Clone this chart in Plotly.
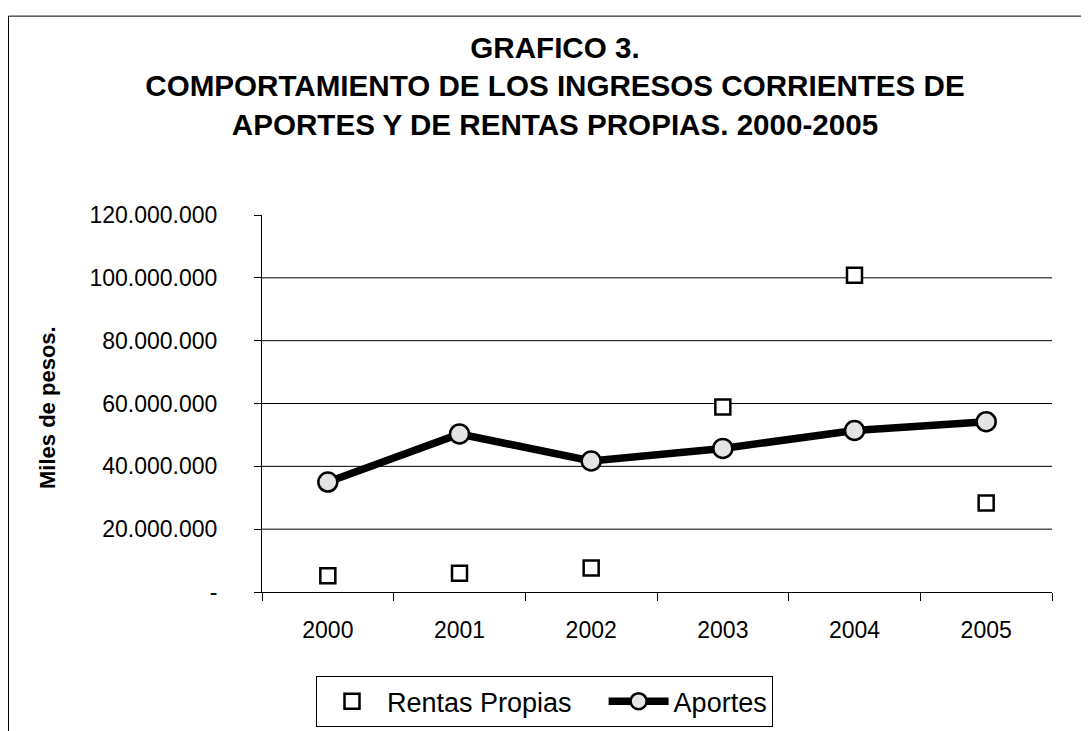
import plotly.graph_objects as go

years = ["2000", "2001", "2002", "2003", "2004", "2005"]
rentas_propias = [5200000, 6000000, 7600000, 58900000, 100800000, 28300000]
aportes = [35000000, 50300000, 41700000, 45700000, 51400000, 54200000]

y_tickvals = [0, 20000000, 40000000, 60000000, 80000000, 100000000, 120000000]
y_ticktext = ["-", "20.000.000", "40.000.000", "60.000.000", "80.000.000", "100.000.000", "120.000.000"]
grid_values = [20000000, 40000000, 60000000, 80000000, 100000000]

FONT = "Liberation Sans, Arial, sans-serif"

# the page body adds an 8px offset; positions below are in figure pixels
L, R, T, B = 254, 1044, 207, 588
PW, PH = R - L, B - T

def px(xfig):
    return (xfig - L) / PW

def py(yfig):
    return (B - yfig) / PH

fig = go.Figure()
fig.add_trace(go.Scatter(
    x=years, y=rentas_propias, name="Rentas Propias\u2002\u2002", mode="markers",
    marker=dict(symbol="square", size=15, color="white",
                line=dict(color="black", width=2.5)),
))
fig.add_trace(go.Scatter(
    x=years, y=aportes, name="Aportes", mode="lines+markers",
    line=dict(color="black", width=7.5),
    marker=dict(symbol="circle", size=19, color="#e4e4e4",
                line=dict(color="black", width=2.5)),
))

shapes = []
for v in grid_values:
    shapes.append(dict(type="line", xref="paper", x0=0, x1=1, yref="y", y0=v, y1=v,
                       line=dict(color="black", width=1), layer="below"))
# outer chart frame
shapes.append(dict(type="rect", xref="paper", yref="paper",
                   x0=px(0.5), x1=px(1100), y0=py(745), y1=py(6),
                   line=dict(color="black", width=1), fillcolor="rgba(0,0,0,0)"))

fig.update_layout(
    width=1089, height=731,
    margin=dict(l=L, r=1089 - R, t=T, b=731 - B),
    paper_bgcolor="white", plot_bgcolor="white",
    font=dict(family=FONT, color="black", size=23),
    title=dict(
        text="<b>GRAFICO 3.<br>COMPORTAMIENTO DE LOS INGRESOS CORRIENTES DE<br>APORTES Y DE RENTAS PROPIAS. 2000-2005</b>",
        x=547 / 1089, xanchor="center", y=1 - 50 / 731, yanchor="top",
        font=dict(family=FONT, size=29.6, color="black"),
    ),
    xaxis=dict(
        type="category", range=[-0.5, 5.5], tickson="boundaries",
        showline=True, linecolor="black", linewidth=1,
        ticks="outside", ticklen=8, tickcolor="black",
        showgrid=False, zeroline=False,
        tickfont=dict(size=23), ticklabelstandoff=17,
    ),
    yaxis=dict(
        range=[0, 120000000], tickvals=y_tickvals, ticktext=y_ticktext,
        showline=True, linecolor="black", linewidth=1,
        ticks="outside", ticklen=7, tickcolor="black",
        showgrid=False, zeroline=False,
        tickfont=dict(size=23), ticklabelstandoff=32,
    ),
    showlegend=True,
    legend=dict(
        orientation="h", x=px(308), xanchor="left",
        y=py(673), yanchor="top",
        bordercolor="black", borderwidth=1,
        font=dict(size=27), itemwidth=60,
    ),
    shapes=shapes,
    annotations=[dict(
        text="<b>Miles de pesos.</b>", xref="paper", yref="paper",
        x=px(40), y=py(402), textangle=-90,
        showarrow=False, font=dict(size=22, family=FONT, color="black"),
        xanchor="center", yanchor="middle",
    )],
)

fig.write_html("out.html")
